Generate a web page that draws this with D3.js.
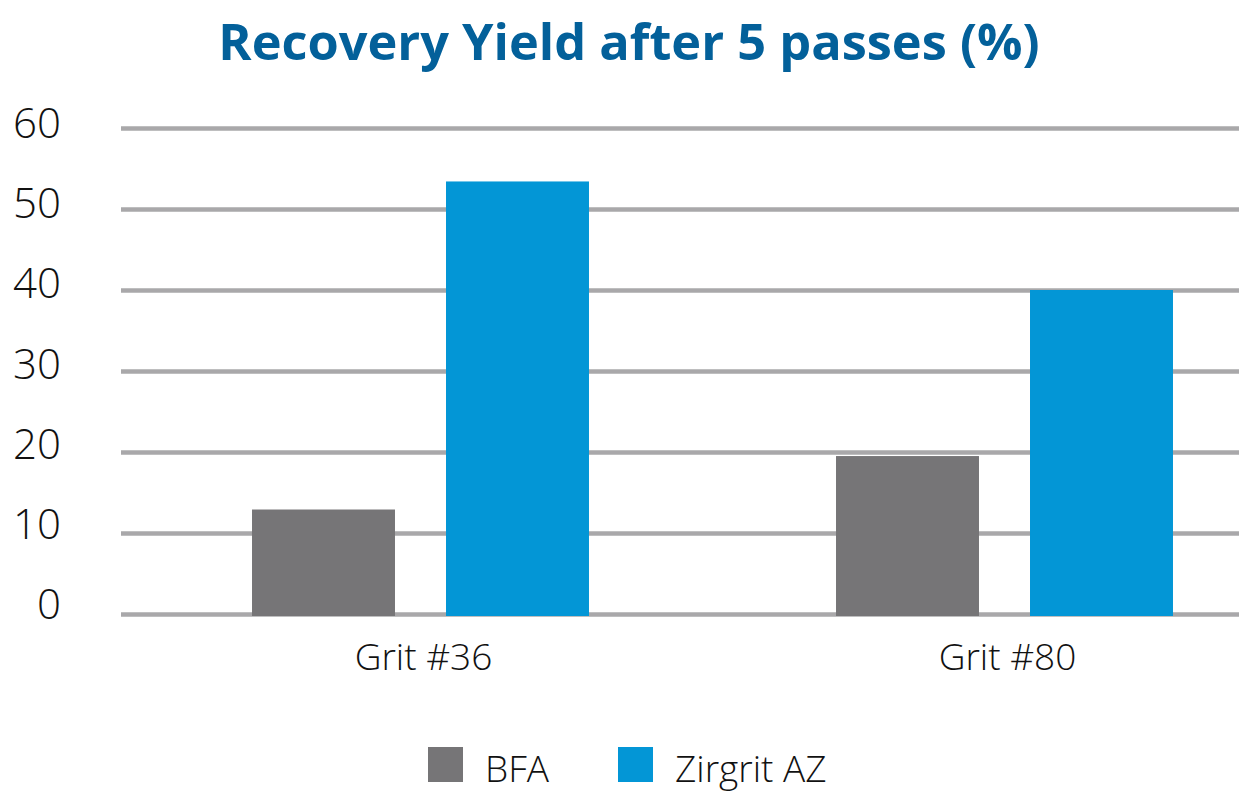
<!DOCTYPE html>
<html>
<head>
<meta charset="utf-8">
<script src="https://cdn.jsdelivr.net/npm/d3@7"></script>
<style>
  body { margin: 0; background: #fff; }
  svg { display: block; font-family: "Open Sans", sans-serif; }
</style>
</head>
<body>
<svg id="chart" width="1255" height="806"></svg>
<script>
var categories = ["Grit #36", "Grit #80"];
var seriesNames = ["BFA", "Zirgrit AZ"];
var bfaValues = [12.9, 19.5];
var zirgritValues = [53.4, 40];
var yTicks = [0, 10, 20, 30, 40, 50, 60];

var colors = { "BFA": "#767577", "Zirgrit AZ": "#0396d6" };

var svg = d3.select("#chart");

var gridLeft = 121, gridRight = 1239;

var y = d3.scaleLinear().domain([0, 60]).range([614, 128]);
// labels sit slightly off the gridlines in the original
var yLabel = d3.scaleLinear().domain([0, 60]).range([619, 138]);

var x0 = d3.scaleBand()
    .domain(categories)
    .range([128.5, 1296.5])
    .paddingInner(0.423)
    .paddingOuter(0.2115);

var x1 = d3.scaleBand()
    .domain(seriesNames)
    .range([0, x0.bandwidth()])
    .paddingInner(0.263);

var rows = categories.map(function(c, i) {
    return { category: c, values: [
        { name: "BFA", value: bfaValues[i] },
        { name: "Zirgrit AZ", value: zirgritValues[i] }
    ] };
});

// title
svg.append("text")
    .attr("x", 629)
    .attr("y", 60)
    .attr("text-anchor", "middle")
    .attr("font-size", 50.5)
    .attr("font-weight", 700)
    .attr("fill", "#03609a")
    .text("Recovery Yield after 5 passes (%)");

// gridlines
var grid = svg.append("g")
    .attr("transform", "translate(" + gridLeft + ",0)")
    .call(d3.axisLeft(y).tickValues(yTicks).tickSize(-(gridRight - gridLeft)).tickFormat(""));
grid.select(".domain").remove();
grid.selectAll(".tick line")
    .attr("stroke", "#a9a8aa")
    .attr("stroke-width", 4.5);

// y labels
svg.append("g").selectAll("text")
    .data(yTicks)
    .enter().append("text")
    .attr("x", 61)
    .attr("y", function(d) { return yLabel(d); })
    .attr("text-anchor", "end")
    .attr("font-size", 42)
    .attr("font-weight", 300)
    .attr("fill", "#111")
    .text(function(d) { return d; });

// bars
var groups = svg.append("g").selectAll("g")
    .data(rows)
    .enter().append("g")
    .attr("transform", function(d) { return "translate(" + x0(d.category) + ",0)"; });

groups.selectAll("rect")
    .data(function(d) { return d.values; })
    .enter().append("rect")
    .attr("x", function(d) { return x1(d.name); })
    .attr("y", function(d) { return y(d.value); })
    .attr("width", x1.bandwidth())
    .attr("height", function(d) { return y(0) - y(d.value) + 2; })
    .attr("fill", function(d) { return colors[d.name]; });

// category labels
svg.append("g").selectAll("text")
    .data(categories)
    .enter().append("text")
    .attr("x", function(d) { return x0(d) + x0.bandwidth() / 2 + 3; })
    .attr("y", 670)
    .attr("text-anchor", "middle")
    .attr("font-size", 37)
    .attr("font-weight", 300)
    .attr("fill", "#111")
    .text(function(d) { return d; });

// legend
var legendX = [428, 618];
var legend = svg.append("g").selectAll("g")
    .data(seriesNames)
    .enter().append("g")
    .attr("transform", function(d, i) { return "translate(" + legendX[i] + ",747)"; });

legend.append("rect")
    .attr("width", 35)
    .attr("height", 35)
    .attr("fill", function(d) { return colors[d]; });

legend.append("text")
    .attr("x", 57)
    .attr("y", 35)
    .attr("font-size", 37)
    .attr("font-weight", 300)
    .attr("fill", "#111")
    .text(function(d) { return d; });
</script>
</body>
</html>
